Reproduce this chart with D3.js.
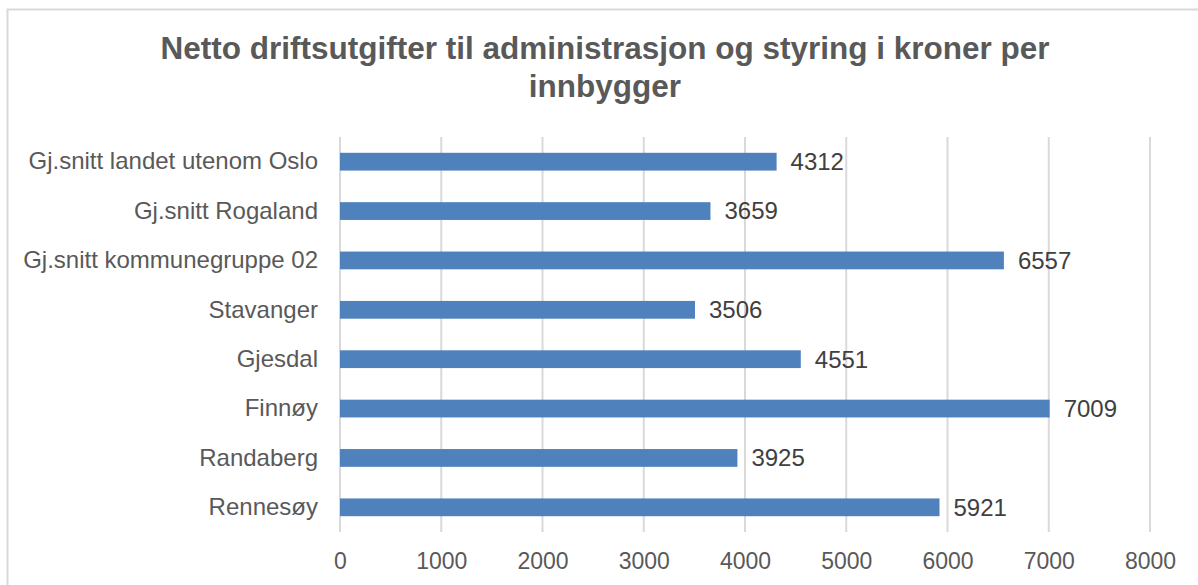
<!DOCTYPE html>
<html>
<head>
<meta charset="utf-8">
<script src="https://cdn.jsdelivr.net/npm/d3@7"></script>
<style>
  html, body { margin: 0; padding: 0; background: #ffffff; }
  svg { display: block; font-family: "Liberation Sans", Arial, sans-serif; }
</style>
</head>
<body>
<svg id="chart" width="1198" height="585"></svg>
<script>
// Municipalities and averages, top to bottom
const categories = [
  "Gj.snitt landet utenom Oslo",
  "Gj.snitt Rogaland",
  "Gj.snitt kommunegruppe 02",
  "Stavanger",
  "Gjesdal",
  "Finnøy",
  "Randaberg",
  "Rennesøy"
];
// Net operating expenses, NOK per inhabitant
const values = [4312, 3659, 6557, 3506, 4551, 7009, 3925, 5921];
const xTicks = [0, 1000, 2000, 3000, 4000, 5000, 6000, 7000, 8000];
const titleLines = [
  "Netto driftsutgifter til administrasjon og styring i kroner per",
  "innbygger"
];

const svg = d3.select("#chart");
const W = 1198, H = 585;
const plot = { left: 340, right: 1150, top: 137, bottom: 532 };

// Chart frame
svg.append("rect")
  .attr("x", 7.5).attr("y", 9.5)
  .attr("width", W + 20).attr("height", H + 20)
  .attr("fill", "#ffffff")
  .attr("stroke", "#d9d9d9").attr("stroke-width", 2);

// Title
svg.append("g").selectAll("text")
  .data(titleLines)
  .join("text")
  .attr("x", 605)
  .attr("y", (d, i) => 59 + i * 38)
  .attr("text-anchor", "middle")
  .attr("font-size", 31.5)
  .attr("font-weight", "bold")
  .attr("fill", "#595959")
  .text(d => d);

const x = d3.scaleLinear().domain([0, 8000]).range([plot.left, plot.right]);
const y = d3.scaleBand().domain(categories).range([plot.top, plot.bottom]).paddingInner(0.64).paddingOuter(0.32);

// Vertical gridlines
svg.append("g").selectAll("line")
  .data(xTicks)
  .join("line")
  .attr("x1", d => x(d)).attr("x2", d => x(d))
  .attr("y1", plot.top).attr("y2", plot.bottom)
  .attr("stroke", "#d9d9d9").attr("stroke-width", 2);

// Bottom axis labels
const xAxis = d3.axisBottom(x).tickValues(xTicks).tickSize(0).tickPadding(0).tickFormat(d3.format("d"));
const gx = svg.append("g").attr("transform", `translate(0, ${plot.bottom + 37})`).call(xAxis);
gx.select(".domain").remove();
gx.selectAll("text")
  .attr("dy", null).attr("y", 0)
  .attr("font-size", 23)
  .attr("font-family", "\"Liberation Sans\", Arial, sans-serif")
  .attr("fill", "#595959");

// Category labels
const yAxis = d3.axisLeft(y).tickSize(0).tickPadding(22);
const gy = svg.append("g").attr("transform", `translate(${plot.left}, 0)`).call(yAxis);
gy.select(".domain").remove();
gy.selectAll("text")
  .attr("font-size", 24)
  .attr("font-family", "\"Liberation Sans\", Arial, sans-serif")
  .attr("fill", "#595959");

// Bars
svg.append("g").selectAll("rect")
  .data(values)
  .join("rect")
  .attr("x", x(0))
  .attr("y", (d, i) => y(categories[i]))
  .attr("width", d => x(d) - x(0))
  .attr("height", y.bandwidth())
  .attr("fill", "#4f81bd");

// Value labels
svg.append("g").selectAll("text")
  .data(values)
  .join("text")
  .attr("x", d => x(d) + 14)
  .attr("y", (d, i) => y(categories[i]) + y.bandwidth() / 2)
  .attr("dy", "0.35em")
  .attr("font-size", 24)
  .attr("fill", "#404040")
  .text(d => d);
</script>
</body>
</html>
